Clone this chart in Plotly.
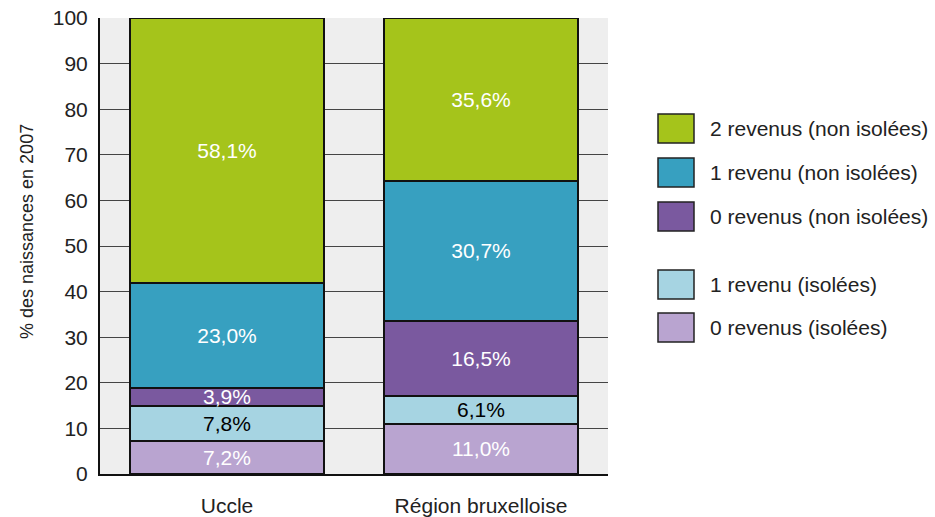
import plotly.graph_objects as go

categories = ["Uccle", "Région bruxelloise"]
series_names = ["0 revenus (isolées)", "1 revenu (isolées)", "0 revenus (non isolées)",
                "1 revenu (non isolées)", "2 revenus (non isolées)"]
v_0_isolees = [7.2, 11.0]
v_1_isolees = [7.8, 6.1]
v_0_non = [3.9, 16.5]
v_1_non = [23.0, 30.7]
v_2_non = [58.1, 35.6]
series_values = [v_0_isolees, v_1_isolees, v_0_non, v_1_non, v_2_non]
colors = ["#b9a4d0", "#a6d4e2", "#7a599f", "#37a0c0", "#a5c41b"]
text_colors = ["white", "black", "white", "white", "white"]
y_ticks = list(range(0, 101, 10))

FONT = "Liberation Sans, Arial, sans-serif"
W, H = 935, 517
# plot area in page pixels
L, R, T, B = 100, 608, 18, 474

def px(x):
    return (x - L) / (R - L)

def py(y):
    return (B - y) / (B - T)

fig = go.Figure()
for name, vals, col, tcol in zip(series_names, series_values, colors, text_colors):
    fig.add_trace(go.Bar(
        x=categories, y=vals, name=name,
        marker=dict(color=col, line=dict(color="#111111", width=2)),
        text=[f"{v:.1f}%".replace(".", ",") for v in vals],
        textposition="inside", insidetextanchor="middle",
        textfont=dict(family=FONT, size=21, color=tcol),
        showlegend=False,
    ))

shapes = []
annotations = []
legend_items = [
    ("2 revenus (non isolées)", "#a5c41b", 114),
    ("1 revenu (non isolées)", "#37a0c0", 158),
    ("0 revenus (non isolées)", "#7a599f", 202),
    ("1 revenu (isolées)", "#a6d4e2", 270),
    ("0 revenus (isolées)", "#b9a4d0", 313),
]
for label, col, top in legend_items:
    shapes.append(dict(type="rect", xref="paper", yref="paper",
                       x0=px(658), x1=px(694), y0=py(top + 29), y1=py(top),
                       fillcolor=col, line=dict(color="#222222", width=1.5)))
    annotations.append(dict(xref="paper", yref="paper", x=px(708), y=py(top + 14.5),
                            xanchor="left", yanchor="middle", showarrow=False,
                            text=label, font=dict(family=FONT, size=21, color="#222222")))

annotations.append(dict(xref="paper", yref="paper", x=px(27), y=py(232),
                        xanchor="center", yanchor="middle", showarrow=False, textangle=-90,
                        text="% des naissances en 2007",
                        font=dict(family=FONT, size=18, color="#222222")))

fig.update_layout(
    width=W, height=H,
    margin=dict(l=L, r=W - R, t=T, b=H - B, pad=0, autoexpand=False),
    barmode="stack", bargap=0.24,
    paper_bgcolor="white", plot_bgcolor="#eeeeee",
    showlegend=False,
    uniformtext=dict(minsize=21, mode="show"),
    shapes=shapes, annotations=annotations,
    xaxis=dict(showgrid=False, showline=True, linecolor="#111111", linewidth=2,
               ticks="", tickfont=dict(family=FONT, size=21, color="#222222"),
               ticklabelstandoff=12, range=[-0.5, 1.5], automargin=False,
               ticklabeloverflow="allow"),
    yaxis=dict(range=[0, 100], tickvals=y_ticks, showgrid=True, gridcolor="#444444", gridwidth=1,
               showline=True, linecolor="#111111", linewidth=2, zeroline=False,
               ticks="", tickfont=dict(family=FONT, size=21, color="#222222"),
               ticklabelstandoff=6, automargin=False, ticklabeloverflow="allow"),
)

fig.write_html("out.html", config={"displayModeBar": False},
               post_script="document.body.style.margin='0';document.body.style.overflow='hidden';")
